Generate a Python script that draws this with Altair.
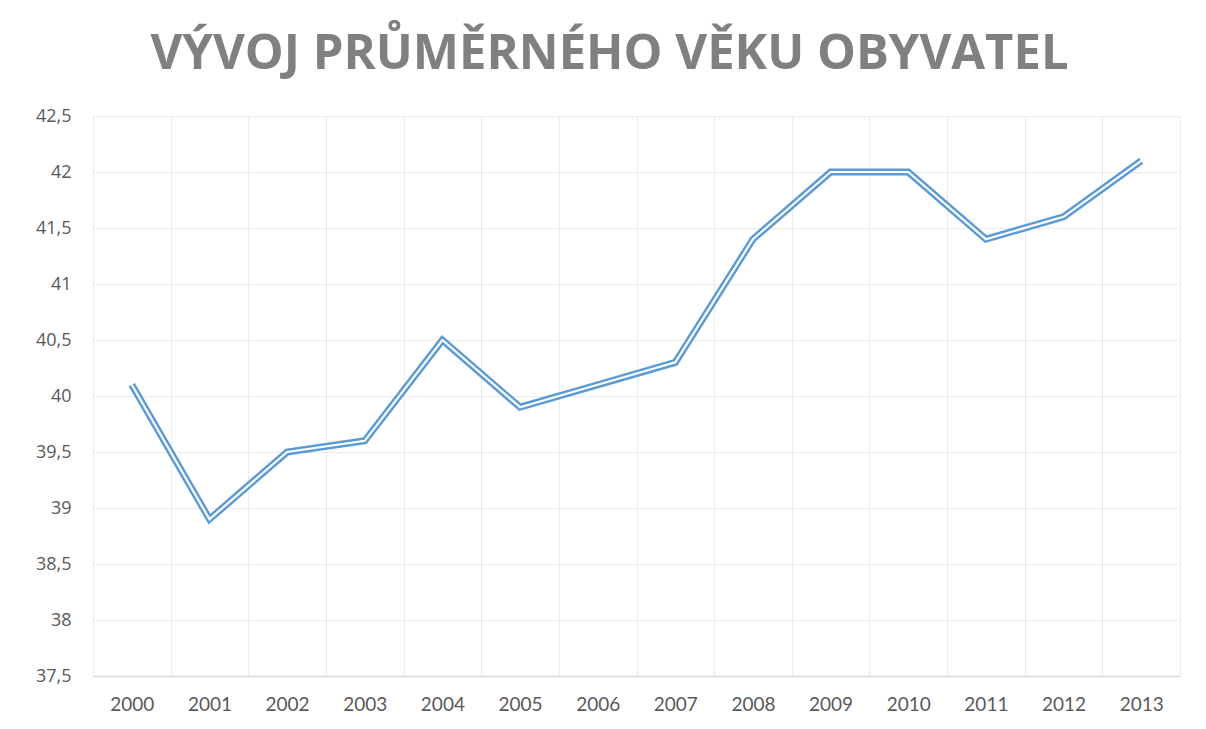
import altair as alt
import pandas as pd

# Data
years = ["2000", "2001", "2002", "2003", "2004", "2005", "2006",
         "2007", "2008", "2009", "2010", "2011", "2012", "2013"]
ages = [40.1, 38.9, 39.5, 39.6, 40.5, 39.9, 40.1,
        40.3, 41.4, 42.0, 42.0, 41.4, 41.6, 42.1]
y_ticks = [37.5, 38.0, 38.5, 39.0, 39.5, 40.0, 40.5, 41.0, 41.5, 42.0, 42.5]
title_text = "VÝVOJ PRŮMĚRNÉHO VĚKU OBYVATEL"

df = pd.DataFrame({"rok": years, "vek": ages})

grid_color = "#ebebeb"
label_color = "#595959"
line_blue = "#5b9bd5"

x_enc = alt.X(
    "rok:O",
    bandPosition=0.5,
    sort=years,
    scale=alt.Scale(type="band", paddingInner=0, paddingOuter=0),
    axis=alt.Axis(
        title=None,
        labelAngle=0,
        tickBand="extent",
        grid=True,
        gridColor=grid_color,
        gridWidth=1,
        ticks=False,
        domainColor="#d9d9d9",
        domainWidth=1.5,
        labelFont="Lato",
        labelFontSize=19,
        labelColor=label_color,
        labelPadding=19,
    ),
)
y_enc = alt.Y(
    "vek:Q",
    scale=alt.Scale(domain=[37.5, 42.5], nice=False, zero=False),
    axis=alt.Axis(
        title=None,
        values=y_ticks,
        labelExpr="replace(format(datum.value, '.1~f'), '.', ',')",
        domain=False,
        ticks=False,
        grid=True,
        gridColor=grid_color,
        gridWidth=1,
        labelFont="Open Sans",
        labelFontSize=18,
        labelColor=label_color,
        labelPadding=22,
    ),
)

base = alt.Chart(df).encode(x=x_enc, y=y_enc)
outer = base.mark_line(color=line_blue, strokeWidth=7, strokeJoin="miter", strokeCap="butt")
inner = base.mark_line(color="white", strokeWidth=2.2, strokeJoin="miter", strokeCap="butt")

chart = (
    alt.layer(outer, inner)
    .properties(
        width=1087,
        height=560,
        title=alt.Title(
            title_text,
            font="Open Sans",
            fontSize=49,
            fontWeight="bold",
            color="#808080",
            anchor="middle",
            dx=-27,
            dy=43,
            offset=32,
            baseline="alphabetic",
        ),
        padding={"left": 93, "top": 116, "right": 26, "bottom": 53},
        autosize=alt.AutoSizeParams(type="none"),
        background="white",
    )
    .configure_view(stroke=None)
)

chart.save("out.html", embed_options={"renderer": "svg", "actions": False})
